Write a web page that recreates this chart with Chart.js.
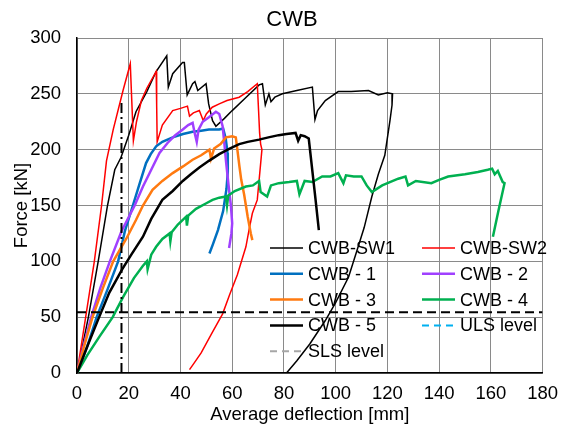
<!DOCTYPE html>
<html>
<head>
<meta charset="utf-8">
<script src="https://cdn.jsdelivr.net/npm/chart.js@4.4.1/dist/chart.umd.min.js"></script>
<style>
  html, body { margin: 0; padding: 0; background: #fff; }
  #wrap { width: 568px; height: 428px; }
</style>
</head>
<body>
<div id="wrap"><canvas id="cwbChart" width="568" height="428"></canvas></div>
<script>
// values: average deflection [mm] / force [kN]
const sw1Defl  = [0, 4.4, 8.2, 11.8, 14.6, 17, 20, 22.8, 27, 30.6, 34.7, 35.3, 37, 40.8, 41.5, 42.6, 44.7, 45.6, 46.7, 49.9, 50.9, 52.4, 53.7, 57, 60, 65, 70.4, 71.7, 72.8, 74.2, 75, 76.5, 79.4, 85, 91, 92, 93, 96, 101, 106, 112.7, 116.5, 120, 122, 121.8, 121, 119, 116.5, 114, 111, 108, 105, 100, 96, 90, 85, 81];
const sw1Force = [0, 50, 100, 150, 182, 193, 213, 234, 252, 270, 284, 256, 268, 278, 278, 249, 259, 261, 253, 259, 241, 226, 221, 228, 235, 246, 258, 259, 240, 250, 243, 247, 250, 253, 256, 227, 235, 244, 252, 252, 253, 249, 251, 250, 240, 226, 195, 178, 158, 130, 108, 86, 63, 47, 26, 11, 0];

const sw2Defl  = [0, 3.35, 6.7, 9.5, 11.4, 14, 17.8, 20.6, 21.8, 23, 24.9, 27, 30.6, 30.8, 31, 33, 37, 40, 42.7, 43.5, 45, 47.3, 48.8, 50, 52.3, 55, 58, 62.7, 66, 69.7, 70.2, 70.6, 71, 71.5, 70.5, 69.7, 67.8, 66.5, 65.3, 62, 59, 56.3, 52, 48, 45, 43.5];
const sw2Force = [0, 50, 100, 150, 190, 218, 253, 277, 208, 225, 244, 255, 270, 240, 207, 222, 235, 237, 239, 230, 233, 235, 226, 232, 238, 241, 244, 247, 252, 259, 235, 215, 205, 200, 175, 155, 143, 128, 113, 88, 70, 53, 35, 18, 8, 3];

const c1Defl  = [0, 4, 7.6, 12, 15.9, 18.5, 21.6, 24, 26.7, 28.5, 30.6, 33, 37, 41, 44.7, 48, 51, 55, 56.5, 57.5, 58.2, 58.3, 57.8, 56.5, 54.5, 52.5, 51.2];
const c1Force = [0, 24, 50, 76, 100, 127, 150, 168, 188, 196, 203, 207, 211, 214, 216, 217, 218, 218, 219, 210, 197, 180, 165, 145, 128, 115, 107];

const c2Defl  = [0, 2.5, 5.5, 9, 12.7, 17.2, 22.3, 25.5, 28.7, 31.9, 35, 38, 40.9, 43, 44.7, 45.5, 46.3, 47, 48.6, 51, 53.7, 55, 56.3, 57, 57.6, 58.5, 59.5, 60, 59.7, 58.8];
const c2Force = [0, 24, 50, 76, 100, 127, 150, 167, 182, 197, 206, 213, 218, 222, 224, 215, 207, 218, 225, 229, 234, 232, 221, 205, 190, 170, 150, 134, 125, 112];

const c3Defl  = [0, 3, 6, 10, 14, 19, 22.8, 25.5, 29.2, 33, 37, 41, 44.7, 48, 51.2, 51.8, 53, 55.5, 57.6, 60, 61.4, 62, 62.8, 63.5, 64.6, 66, 67.2, 67.8];
const c3Force = [0, 26, 50, 76, 100, 120, 137, 150, 164, 172, 179, 185, 191, 195, 200, 192, 201, 205, 211, 212, 211, 200, 185, 173, 160, 140, 125, 119];

const c4Defl  = [0, 4, 8.8, 13.8, 17.8, 22, 25.5, 27, 27.3, 28.7, 30.6, 33, 35.8, 36.1, 36.6, 39, 42.2, 42.5, 43, 46, 50, 52.4, 55, 57.6, 58, 58.5, 61, 65.3, 68, 70.4, 71, 73.5, 75, 78, 82, 85, 86, 88, 91, 94.8, 98, 101, 103, 104, 107, 110, 112, 114, 118, 124.2, 127, 128, 131, 137, 140, 143.5, 150, 155, 158.8, 160.5, 161.5, 162.7, 164.6, 165.3, 163, 160.8];
const c4Force = [0, 16, 33, 50, 68, 85, 96, 100, 93, 106, 113, 120, 125, 118, 126, 133, 140, 132, 141, 147, 152, 155, 157, 158, 150, 159, 163, 167, 168, 172, 162, 158, 168, 170, 171, 172, 160, 172, 171, 176, 176, 179, 170, 177, 176, 176, 168, 162, 168, 174, 176, 168, 172, 170, 173, 176, 178, 180, 182, 183, 178, 181, 171, 170, 146, 122];

const c5Defl  = [0, 4, 8.2, 12.5, 17.5, 21, 25.5, 28.7, 33, 37, 40.9, 44, 47.3, 51, 55, 59, 62.7, 66, 70.4, 74, 78, 81, 84.5, 85.5, 86.5, 88, 89.6, 92.2, 93.5];
const c5Force = [0, 24, 48, 72, 93, 106, 122, 138, 155, 163, 172, 178, 184, 190, 196, 201, 205, 207, 209, 211, 213, 214, 215, 208, 213, 212, 210, 156, 128];

// the two black guide lines (not in the legend)
const hGuideDefl = [0, 180];
const hGuideForce = [54.5, 54.5];
const vGuideDefl = [17.2, 17.2];
const vGuideForce = [0, 245];

const xTicks = [0, 20, 40, 60, 80, 100, 120, 140, 160, 180];
const yTicks = [0, 50, 100, 150, 200, 250, 300];

const FONT = '"Liberation Sans", Arial, sans-serif';
Chart.defaults.font.family = FONT;

function pts(xs, ys) {
    return xs.map((x, i) => ({ x: x, y: ys[i] }));
}

function series(label, xs, ys, color, width, extra) {
    return Object.assign({
        label: label,
        data: pts(xs, ys),
        borderColor: color,
        backgroundColor: color,
        borderWidth: width,
        showLine: true,
        pointRadius: 0,
        tension: 0,
        fill: false
    }, extra || {});
}

const datasets = [
    series('CWB-SW1', sw1Defl, sw1Force, '#000000', 1.5),
    series('CWB-SW2', sw2Defl, sw2Force, '#FF0000', 1.5),
    series('CWB - 1', c1Defl, c1Force, '#0070C0', 2.5),
    series('CWB - 2', c2Defl, c2Force, '#A040FF', 2.5),
    series('CWB - 3', c3Defl, c3Force, '#FF7A10', 2.5),
    series('CWB - 4', c4Defl, c4Force, '#00B050', 2.5),
    series('CWB - 5', c5Defl, c5Force, '#000000', 2.5),
    series('ULS level', [], [], '#00B0F0', 2, { borderDash: [7, 5] }),
    series('SLS level', [], [], '#A6A6A6', 2, { borderDash: [7, 5] }),
    series('sls guide', hGuideDefl, hGuideForce, '#000000', 2, { borderDash: [9, 5], noLegend: true }),
    series('uls guide', vGuideDefl, vGuideForce, '#000000', 2, { borderDash: [10, 4, 2, 4], noLegend: true })
];
// later series on top, like the spreadsheet
datasets.forEach((d, i) => { d.order = datasets.length - i; });

// legend sits inside the plot, two columns
const insideLegend = {
    id: 'insideLegend',
    afterDatasetsDraw(chart) {
        const { ctx, chartArea } = chart;
        const items = chart.data.datasets.filter(d => !d.noLegend);
        ctx.save();
        ctx.font = '18px ' + FONT;
        ctx.textBaseline = 'middle';
        ctx.textAlign = 'left';
        items.forEach((d, i) => {
            const col = i % 2, row = Math.floor(i / 2);
            const x = chartArea.left + 193 + col * 152;
            const y = chartArea.top + 210 + row * 25.8;
            ctx.beginPath();
            ctx.strokeStyle = d.borderColor;
            ctx.lineWidth = d.borderWidth;
            ctx.setLineDash(d.borderDash || []);
            ctx.moveTo(x, y);
            ctx.lineTo(x + 33, y);
            ctx.stroke();
            ctx.setLineDash([]);
            ctx.fillStyle = '#000';
            ctx.fillText(d.label, x + 38, y + 1);
        });
        ctx.restore();
    }
};

const chartTitle = {
    id: 'chartTitle',
    afterDraw(chart) {
        const ctx = chart.ctx;
        ctx.save();
        ctx.font = '22px ' + FONT;
        ctx.fillStyle = '#000';
        ctx.textAlign = 'center';
        ctx.textBaseline = 'middle';
        ctx.fillText('CWB', 292, 20);
        ctx.restore();
    }
};

const tickFont = { size: 18.5, family: FONT };

new Chart(document.getElementById('cwbChart').getContext('2d'), {
    type: 'scatter',
    data: { datasets: datasets },
    plugins: [insideLegend, chartTitle],
    options: {
        responsive: false,
        animation: false,
        layout: { padding: { top: 38, right: 22, bottom: 0, left: 0 } },
        plugins: {
            legend: { display: false },
            title: { display: false },
            tooltip: { enabled: false }
        },
        scales: {
            x: {
                type: 'linear',
                min: 0,
                max: 180,
                afterBuildTicks(s) { s.ticks = xTicks.map(v => ({ value: v })); },
                ticks: { color: '#000', font: tickFont, padding: 10, maxRotation: 0 },
                grid: { color: '#8a8a8a', drawTicks: false },
                border: { color: '#000', width: 1.5 },
                title: { display: true, text: 'Average deflection [mm]', color: '#000', font: tickFont, padding: { top: 0, bottom: 2 } },
                afterFit(s) { s.height = 55; }
            },
            y: {
                type: 'linear',
                min: 0,
                max: 300,
                afterBuildTicks(s) { s.ticks = yTicks.map(v => ({ value: v })); },
                ticks: { color: '#000', font: tickFont, padding: 16 },
                grid: { color: '#8a8a8a', drawTicks: false },
                border: { color: '#000', width: 1.5 },
                title: { display: true, text: 'Force [kN]', color: '#000', font: tickFont, padding: { top: 11, bottom: 0 } },
                afterFit(s) { s.width = 77; }
            }
        }
    }
});
</script>
</body>
</html>
